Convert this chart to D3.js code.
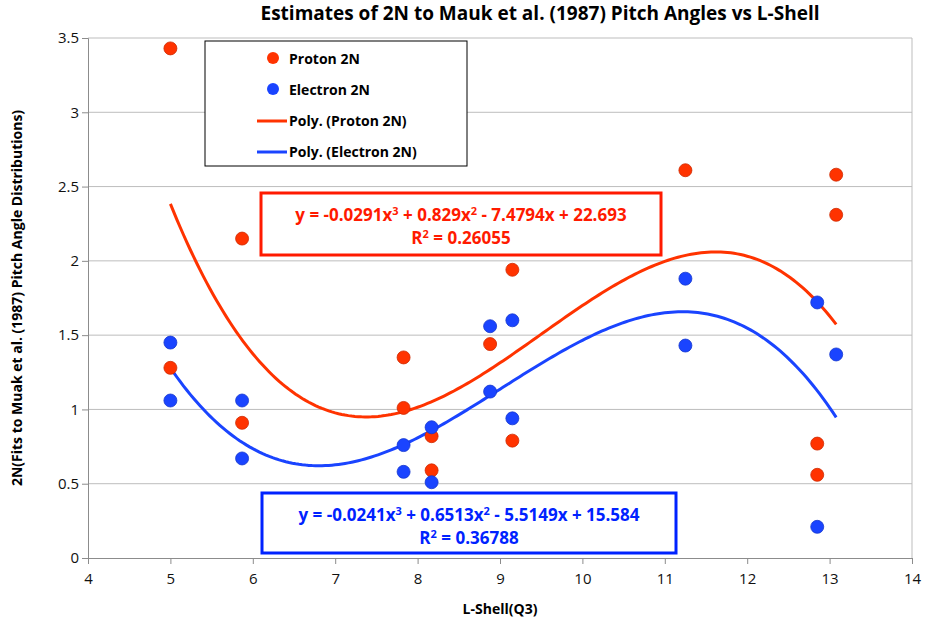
<!DOCTYPE html>
<html lang="en">
<head>
<meta charset="utf-8">
<script src="https://d3js.org/d3.v7.min.js"></script>
<style>
body{margin:0;background:#fff;font-family:"Open Sans",Calibri,sans-serif;}
text{font-family:"Open Sans",sans-serif;}
</style>
</head>
<body>
<script>
var protonX = [5.0, 5.0, 5.87, 5.87, 7.83, 7.83, 8.17, 8.17, 8.88, 9.15, 9.15, 11.25, 12.85, 12.85, 13.08, 13.08];
var protonY = [3.43, 1.28, 2.15, 0.91, 1.35, 1.01, 0.82, 0.59, 1.44, 1.94, 0.79, 2.61, 0.77, 0.56, 2.58, 2.31];
var electronX = [5.0, 5.0, 5.87, 5.87, 7.83, 7.83, 8.17, 8.17, 8.88, 8.88, 9.15, 9.15, 11.25, 11.25, 12.85, 12.85, 13.08];
var electronY = [1.45, 1.06, 1.06, 0.67, 0.76, 0.58, 0.88, 0.51, 1.56, 1.12, 1.60, 0.94, 1.88, 1.43, 1.72, 0.21, 1.37];
var protonCoef = [-0.0291, 0.829, -7.4794, 22.693];
var electronCoef = [-0.0241, 0.6513, -5.5149, 15.584];
var xTicks = [4, 5, 6, 7, 8, 9, 10, 11, 12, 13, 14];
var yTicks = [0, 0.5, 1, 1.5, 2, 2.5, 3, 3.5];

var width = 928, height = 630;
var margin = {top: 38, left: 88, right: 16, bottom: 72};
var red = "#ff3300", blue = "#1a44ff";

var svg = d3.select("body").append("svg").attr("width", width).attr("height", height);

var x = d3.scaleLinear().domain([4, 14]).range([margin.left, width - margin.right]);
var y = d3.scaleLinear().domain([0, 3.5]).range([height - margin.bottom, margin.top]);

svg.append("text").attr("x", 540).attr("y", 20).attr("text-anchor", "middle")
  .attr("font-size", 19).attr("font-weight", "bold").text("Estimates of 2N to Mauk et al. (1987) Pitch Angles vs L-Shell");

svg.append("g").selectAll("line").data(yTicks.slice(1)).enter().append("line")
  .attr("x1", x(4)).attr("x2", x(14)).attr("y1", d => y(d)).attr("y2", d => y(d))
  .attr("stroke", "#bdbdbd");

var xa = svg.append("g").attr("transform", `translate(0,${y(0)})`)
  .call(d3.axisBottom(x).tickValues(xTicks).tickSize(6).tickFormat(d3.format("d")));
var ya = svg.append("g").attr("transform", `translate(${x(4)},0)`)
  .call(d3.axisLeft(y).tickValues(yTicks).tickSize(6).tickFormat(d => d));
[xa, ya].forEach(a => {
  a.select(".domain").attr("stroke", "#8c8c8c");
  a.selectAll(".tick line").attr("stroke", "#8c8c8c");
  a.selectAll("text").attr("font-size", 15).attr("fill", "#111");
});
xa.selectAll("text").attr("dy", "1.1em");
svg.append("line").attr("x1", x(14)).attr("x2", x(14)).attr("y1", y(0)).attr("y2", y(3.5)).attr("stroke", "#bdbdbd");

svg.append("text").attr("x", 500).attr("y", 614).attr("text-anchor", "middle")
  .attr("font-size", 14).attr("font-weight", "bold").text("L-Shell(Q3)");
svg.append("text").attr("transform", "translate(22,298) rotate(-90)").attr("text-anchor", "middle")
  .attr("font-size", 14).attr("font-weight", "bold").text("2N(Fits to Muak et al. (1987) Pitch Angle Distributions)");

function poly(c) { return t => c[0]*t*t*t + c[1]*t*t + c[2]*t + c[3]; }
var line = d3.line().x(d => x(d[0])).y(d => y(d[1]));
[[protonCoef, red], [electronCoef, blue]].forEach(p => {
  var f = poly(p[0]);
  var pts = d3.range(5, 13.081, 0.04).map(t => [t, f(t)]);
  svg.append("path").datum(pts).attr("d", line).attr("fill", "none").attr("stroke", p[1]).attr("stroke-width", 3);
});

function dots(xs, ys, col) {
  svg.append("g").selectAll("circle").data(xs.map((v, i) => [v, ys[i]])).enter().append("circle")
    .attr("cx", d => x(d[0])).attr("cy", d => y(d[1])).attr("r", 6.5)
    .attr("fill", col).attr("stroke", d3.color(col).darker(0.6)).attr("stroke-width", 0.8);
}
dots(protonX, protonY, red);
dots(electronX, electronY, blue);

// legend
var lg = svg.append("g");
lg.append("rect").attr("x", 205).attr("y", 41).attr("width", 262).attr("height", 125)
  .attr("fill", "#fff").attr("stroke", "#000").attr("stroke-width", 1);
var items = [["Proton 2N", red, "dot"], ["Electron 2N", blue, "dot"], ["Poly. (Proton 2N)", red, "line"], ["Poly. (Electron 2N)", blue, "line"]];
items.forEach((it, i) => {
  var yy = 59 + i * 31;
  if (it[2] === "dot") lg.append("circle").attr("cx", 273).attr("cy", yy - 1).attr("r", 6).attr("fill", it[1]);
  else lg.append("line").attr("x1", 257).attr("x2", 287).attr("y1", yy).attr("y2", yy).attr("stroke", it[1]).attr("stroke-width", 3);
  lg.append("text").attr("x", 289).attr("y", yy + 5).attr("font-size", 14).attr("font-weight", "bold").text(it[0]);
});

// equation boxes
function eqBox(bx, by, bw, bh, col, a, b, c, d, r2) {
  var g = svg.append("g");
  g.append("rect").attr("x", bx).attr("y", by).attr("width", bw).attr("height", bh)
    .attr("fill", "#fff").attr("stroke", col).attr("stroke-width", 3);
  var t = g.append("text").attr("x", bx + bw/2).attr("y", by + 28).attr("text-anchor", "middle")
    .attr("font-size", 17).attr("font-weight", "bold").attr("fill", col);
  t.append("tspan").text("y = " + a + "x");
  t.append("tspan").attr("font-size", 11).attr("dy", -6).text("3");
  t.append("tspan").attr("dy", 6).text(" + " + b + "x");
  t.append("tspan").attr("font-size", 11).attr("dy", -6).text("2");
  t.append("tspan").attr("dy", 6).text(" - " + c + "x + " + d);
  var t2 = g.append("text").attr("x", bx + bw/2).attr("y", by + 51).attr("text-anchor", "middle")
    .attr("font-size", 17).attr("font-weight", "bold").attr("fill", col);
  t2.append("tspan").text("R");
  t2.append("tspan").attr("font-size", 11).attr("dy", -6).text("2");
  t2.append("tspan").attr("dy", 6).text(" = " + r2);
}
eqBox(261, 193, 400, 62, "#ff1a00", "-0.0291", "0.829", "7.4794", "22.693", "0.26055");
eqBox(262, 493, 414, 60, "#0022ff", "-0.0241", "0.6513", "5.5149", "15.584", "0.36788");
</script>
</body>
</html>
